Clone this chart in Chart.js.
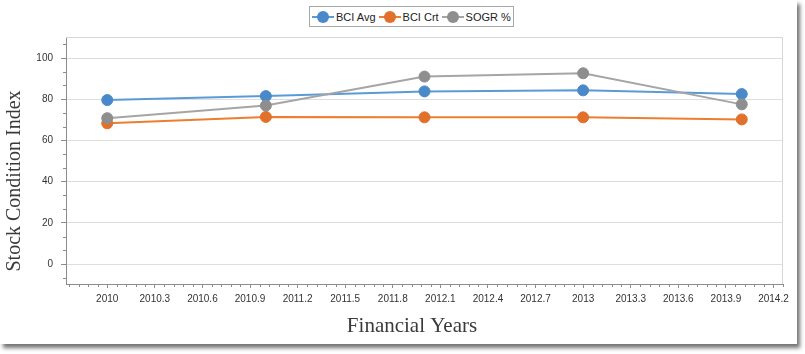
<!DOCTYPE html>
<html>
<head>
<meta charset="utf-8">
<script src="https://cdn.jsdelivr.net/npm/chart.js@4.4.0/dist/chart.umd.min.js"></script>
<style>
    body { margin: 0; background: #fff; }
    #panel {
        position: absolute; left: 0; top: 0; width: 797px; height: 344px;
        background: #fff; box-shadow: 3px 4px 4px rgba(0, 0, 0, 0.55);
    }
    #chart { position: absolute; left: 0; top: 0; }
    #legend {
        position: absolute; left: 309px; top: 6px; width: 205px; height: 21px;
        box-sizing: border-box; border: 1px solid #a8a8a8; background: #fff;
        display: flex; align-items: center; padding-left: 2px; white-space: nowrap;
        font: 11px "Liberation Sans", Arial, sans-serif; color: #222;
    }
    .item { display: flex; align-items: center; margin-right: 3px; flex-shrink: 0; }
    .icon { position: relative; width: 22px; height: 12px; margin-right: 2px; flex-shrink: 0; }
    .icon .ln { position: absolute; left: 0; top: 5px; width: 22px; height: 2px; }
    .icon .dot { position: absolute; left: 5px; top: 0; width: 12px; height: 12px; border-radius: 50%; }
</style>
</head>
<body>
<div id="panel">
    <canvas id="chart" width="797" height="344"></canvas>
    <div id="legend"></div>
</div>
<script>
// Data
const years = [2010, 2011, 2012, 2013, 2014];
const bciAvg = [79.6, 81.5, 83.8, 84.3, 82.5];
const bciCrt = [68.3, 71.4, 71.2, 71.2, 70.2];
const sogr = [70.8, 76.9, 91.0, 92.6, 77.5];
const seriesNames = ['BCI Avg', 'BCI Crt', 'SOGR %'];

// Axis tick labels
const xTicks = [2010, 2010.3, 2010.6, 2010.9, 2011.2, 2011.5, 2011.8, 2012.1,
    2012.4, 2012.7, 2013, 2013.3, 2013.6, 2013.9, 2014.2];
const yTicks = [0, 20, 40, 60, 80, 100];

const lineColors = ['#5b9bd5', '#ed7d31', '#a5a5a5'];
const markerColors = ['#4a89c9', '#e0702a', '#8e8e8e'];
const axisColor = '#8c8c8c';

const seriesValues = [bciAvg, bciCrt, sogr];

// Build the legend
const legend = document.getElementById('legend');
seriesNames.forEach((name, i) => {
    const item = document.createElement('div');
    item.className = 'item';
    item.innerHTML = `<span class="icon"><span class="ln" style="background:${lineColors[i]}"></span>` +
        `<span class="dot" style="background:${markerColors[i]}"></span></span><span>${name}</span>`;
    legend.appendChild(item);
});

// Minor ticks, plot frame and axis titles
const decor = {
    id: 'decor',
    beforeDatasetsDraw(chart) {
        const { ctx, chartArea: a, scales: { x, y } } = chart;
        ctx.save();
        ctx.lineWidth = 1;
        ctx.strokeStyle = '#d6d6d6';
        ctx.beginPath();
        ctx.moveTo(a.left, a.top + 0.5);
        ctx.lineTo(a.right - 0.5, a.top + 0.5);
        ctx.lineTo(a.right - 0.5, a.bottom);
        ctx.stroke();

        ctx.strokeStyle = axisColor;
        ctx.beginPath();
        for (let k = -5; k < 80; k++) {
            const v = 2010 + k * 0.06;
            if (v < x.min || v > x.max || k % 5 === 0) continue;
            const px = Math.round(x.getPixelForValue(v)) + 0.5;
            ctx.moveTo(px, a.bottom);
            ctx.lineTo(px, a.bottom + 3);
        }
        for (let k = -2; k < 20; k++) {
            const v = k * 20 / 3;
            if (v < y.min || v > y.max || k % 3 === 0) continue;
            const py = Math.round(y.getPixelForValue(v)) + 0.5;
            ctx.moveTo(a.left, py);
            ctx.lineTo(a.left - 3, py);
        }
        ctx.stroke();
        ctx.restore();
    },
    afterDraw(chart) {
        const { ctx } = chart;
        ctx.save();
        ctx.fillStyle = '#3a3a3a';
        ctx.textAlign = 'center';
        ctx.textBaseline = 'middle';
        ctx.font = '21px "Liberation Serif", "Times New Roman", serif';
        ctx.fillText('Financial Years', 412, 326);
        ctx.font = '20px "Liberation Serif", "Times New Roman", serif';
        ctx.translate(15, 181);
        ctx.rotate(-Math.PI / 2);
        ctx.fillText('Stock Condition Index', 0, 0);
        ctx.restore();
    }
};

new Chart(document.getElementById('chart'), {
    type: 'line',
    data: {
        datasets: seriesNames.map((name, i) => ({
            label: name,
            data: years.map((yr, j) => ({ x: yr, y: seriesValues[i][j] })),
            borderColor: lineColors[i],
            backgroundColor: markerColors[i],
            pointBackgroundColor: markerColors[i],
            pointBorderColor: markerColors[i],
            pointBorderWidth: 1,
            pointRadius: 5.5,
            pointHoverRadius: 5.5,
            borderWidth: 2,
            tension: 0,
            order: 2 - i
        }))
    },
    options: {
        responsive: false,
        devicePixelRatio: 1,
        animation: false,
        layout: { padding: { top: 37, right: 14, left: 0, bottom: 0 } },
        plugins: {
            legend: { display: false },
            tooltip: { enabled: false }
        },
        scales: {
            x: {
                type: 'linear',
                min: 2009.74,
                max: 2014.26,
                afterBuildTicks: (s) => { s.ticks = xTicks.map(v => ({ value: v })); },
                afterFit: (s) => { s.height = 60; },
                ticks: {
                    autoSkip: false,
                    maxRotation: 0,
                    padding: 5,
                    color: '#333',
                    font: { family: '"Liberation Sans", Arial, sans-serif', size: 10 },
                    callback: (v) => String(Number(v.toFixed(1)))
                },
                grid: { drawOnChartArea: false, tickLength: 4, tickColor: axisColor },
                border: { color: axisColor }
            },
            y: {
                min: -9.7,
                max: 110.2,
                afterBuildTicks: (s) => { s.ticks = yTicks.map(v => ({ value: v })); },
                afterFit: (s) => { s.width = 66; },
                ticks: {
                    padding: 8,
                    color: '#333',
                    font: { family: '"Liberation Sans", Arial, sans-serif', size: 10 }
                },
                grid: { color: '#dedede', tickLength: 5, tickColor: axisColor },
                border: { color: axisColor }
            }
        }
    },
    plugins: [decor]
});
</script>
</body>
</html>
